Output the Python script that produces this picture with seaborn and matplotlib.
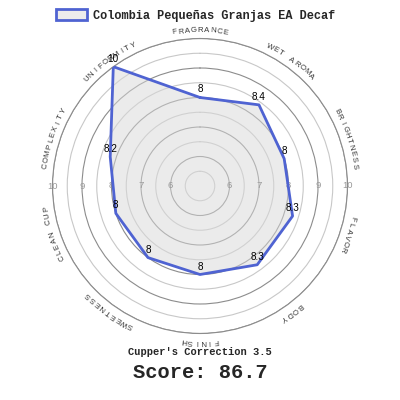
import numpy as np
import matplotlib
matplotlib.use("Agg")
import matplotlib.pyplot as plt
from matplotlib.patches import Patch
import seaborn as sns

# Données du profil de cupping
categories = ["FRAGRANCE", "WET AROMA", "BRIGHTNESS", "FLAVOR", "BODY",
              "FINISH", "SWEETNESS", "CLEAN CUP", "COMPLEXITY", "UNIFORMITY"]
scores = [8, 8.4, 8, 8.3, 8.3, 8, 8, 8, 8.2, 10]
tick_values = [6, 7, 8, 9, 10]
coffee_name = "Colombia Pequeñas Granjas EA Decaf"
correction = 3.5
total_score = 86.7

sns.set_theme(style="white")
plt.rcParams["font.family"] = ["Liberation Sans", "DejaVu Sans"]

BLUE = "#4f63d2"
R_MIN, R_MAX = 5, 10

fig = plt.figure(figsize=(4, 4), dpi=100)
ax = fig.add_axes([0.13125, 0.16625, 0.7375, 0.7375], projection="polar")
ax.set_theta_zero_location("N")
ax.set_theta_direction(-1)
ax.set_ylim(R_MIN, R_MAX)

n = len(categories)
theta = np.arange(n) * 2 * np.pi / n
theta_closed = np.append(theta, 2 * np.pi)
scores_closed = np.append(scores, scores[0])

# Cercles de la grille
ax.set_xticks([])
ax.set_yticks(np.arange(5.5, 10.01, 0.5))
ax.set_yticklabels([])
ax.yaxis.grid(True)
for tick, line in zip(ax.get_yticks(), ax.yaxis.get_gridlines()):
    line.set_color("#8c8c8c" if tick % 1 == 0 else "#c8c8c8")
    line.set_linewidth(0.8)
ax.spines["polar"].set_color("#8c8c8c")
ax.spines["polar"].set_linewidth(0.8)

# Polygone
ax.fill(theta_closed, scores_closed, color="#d9d9d9", alpha=0.5, zorder=1)
sns.lineplot(x=theta_closed, y=scores_closed, sort=False, estimator=None,
             color=BLUE, linewidth=2, ax=ax, zorder=3)

for t, v in zip(theta, scores):
    ax.annotate(f"{v:g}", (t, v), xytext=(0, 8), textcoords="offset pixels",
                ha="center", va="center", fontsize=7.2, color="black", zorder=4)

# Graduations des deux côtés
for tv in tick_values:
    for side in (np.pi / 2, 3 * np.pi / 2):
        ax.text(side, tv, str(tv), ha="center", va="center", fontsize=6.8,
                color="#999999", zorder=2)

# Libellés courbes
step = 6.4 / 155.0
for t, name in zip(theta, categories):
    k = len(name)
    for j, ch in enumerate(name):
        a = t + (j - (k - 1) / 2) * step
        ax.text(a, R_MAX + 8.0 / 29.5, ch, rotation=-np.degrees(a),
                rotation_mode="anchor", ha="center", va="center",
                fontsize=5.6, color="#333333", clip_on=False)

# Légende
handle = Patch(facecolor="#ececec", edgecolor=BLUE, linewidth=2)
fig.legend([handle], [coffee_name], loc="upper center", bbox_to_anchor=(0.49, 1.005),
           frameon=False, handlelength=2.6, handleheight=1.1, handletextpad=0.5,
           prop={"family": "Liberation Mono", "weight": "bold", "size": 8.6})

fig.text(0.5, 1 - 352 / 400, f"Cupper's Correction {correction}", ha="center", va="center",
         family="Liberation Mono", weight="bold", fontsize=7.5)
fig.text(0.5, 1 - 373 / 400, f"Score: {total_score}", ha="center", va="center",
         family="Liberation Mono", weight="bold", fontsize=14.7)

fig.savefig("out.png", dpi=100)
plt.close(fig)
